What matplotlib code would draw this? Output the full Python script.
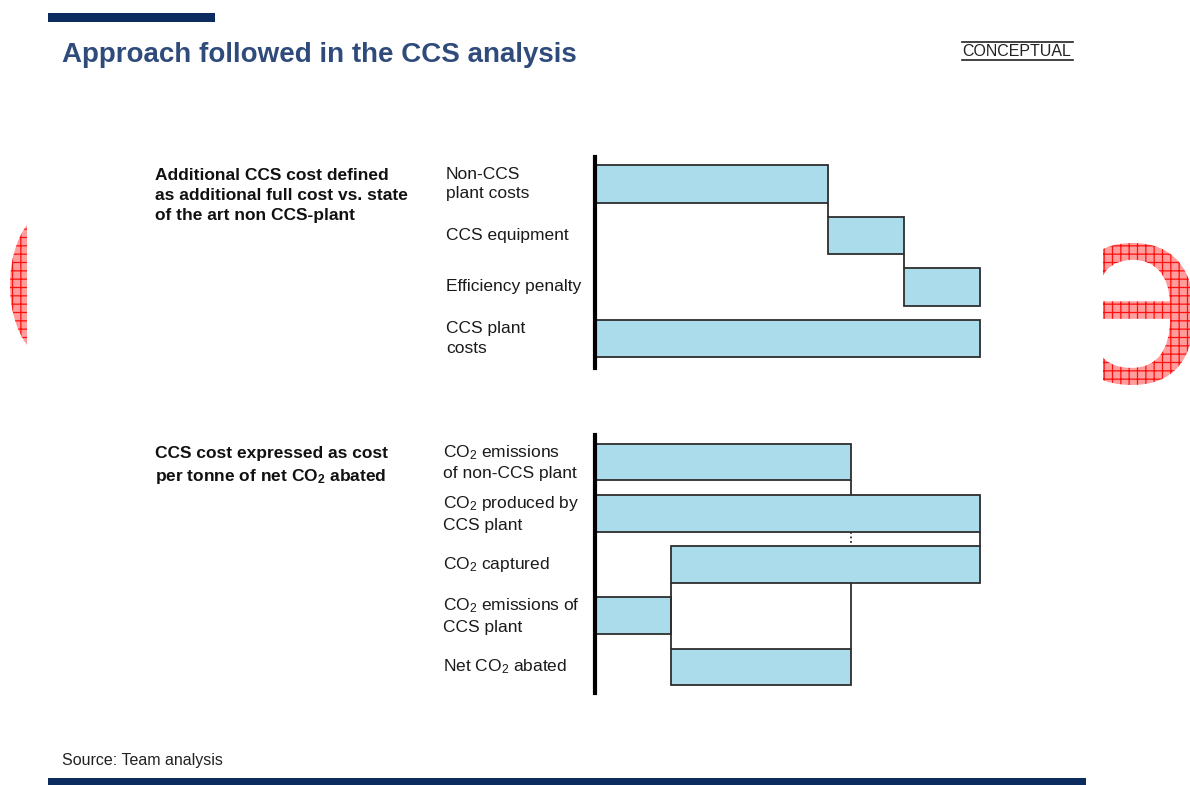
import matplotlib
matplotlib.use('Agg')
import matplotlib.pyplot as plt
from matplotlib.patches import Rectangle, Ellipse, PathPatch
from matplotlib.textpath import TextPath
from matplotlib.font_manager import FontProperties
from matplotlib.transforms import Affine2D

plt.rcParams['font.family'] = ['Liberation Sans', 'DejaVu Sans']
plt.rcParams['mathtext.default'] = 'regular'
plt.rcParams['hatch.linewidth'] = 0.9

# top panel: cost build-up (index, CCS plant cost = 100)
cost_labels = ['Non-CCS\nplant costs', 'CCS equipment', 'Efficiency penalty', 'CCS plant\ncosts']
cost_values = [60.5, 19.75, 19.75, 100.0]

# bottom panel: CO2 balance (index, CO2 produced by CCS plant = 100)
co2_labels = ['CO$_2$ emissions\nof non-CCS plant', 'CO$_2$ produced by\nCCS plant',
              'CO$_2$ captured', 'CO$_2$ emissions of\nCCS plant', 'Net CO$_2$ abated']
co2_values = [66.5, 100.0, 80.3, 19.7, 46.8]

navy = '#0c2b5e'
bar_color = '#aadcec'
edge = '#2e2e2e'
W, H = 1190, 785

fig = plt.figure(figsize=(W / 100, H / 100), dpi=100)

# background axes in pixel coordinates for the slide furniture
bg = fig.add_axes([0, 0, 1, 1])
bg.set_xlim(0, W)
bg.set_ylim(H, 0)
bg.axis('off')

bg.add_patch(Rectangle((48, 13), 167, 9, color=navy, lw=0))
bg.add_patch(Rectangle((48, 778), 1038, 8, color=navy, lw=0))
bg.text(62, 55, 'Approach followed in the CCS analysis', fontsize=20, fontweight='bold',
        color='#2f4b7c', va='center', ha='left')
bg.text(1017, 51, 'CONCEPTUAL', fontsize=11.5, color='#222222', va='center', ha='center')
bg.plot([962, 1073], [42, 42], color='#222222', lw=1.2)
bg.plot([962, 1073], [60, 60], color='#222222', lw=1.2)
bg.text(62, 761, 'Source: Team analysis', fontsize=11.5, color='#222222', va='center', ha='left')

bg.text(155, 168, 'Additional CCS cost defined\nas additional full cost vs. state\nof the art non CCS-plant',
        fontsize=12.5, fontweight='bold', color='#111111', va='top', ha='left', linespacing=1.4)
bg.text(155, 446, 'CCS cost expressed as cost\nper tonne of net CO$_2$ abated',
        fontsize=12.5, fontweight='bold', color='#111111', va='top', ha='left', linespacing=1.4)

# watermark fragments (red hatched letters cut by the slide edges)
tp = TextPath((0, 0), 'e', size=100, prop=FontProperties(family='Liberation Sans'))
bb = tp.get_extents()
s = 142 / bb.height
tr = Affine2D().scale(-s, -s).translate(1194 + s * bb.x0, 385 + s * bb.y0)
wm = PathPatch(tr.transform_path(tp), facecolor='#ff9c9c', edgecolor='#ff1010', hatch='++', lw=0)
bg.add_patch(wm)
clip_r = Rectangle((1103, 0), 100, H, transform=bg.transData)
wm.set_clip_path(clip_r)
wl = Ellipse((52.5, 285), 85, 150, facecolor='#ff9c9c', edgecolor='#ff1010', hatch='++', lw=0)
bg.add_patch(wl)
clip_l = Rectangle((0, 0), 27, H, transform=bg.transData)
wl.set_clip_path(clip_l)


def px_axes(x0, y0, x1, y1):
    return fig.add_axes([x0 / W, 1 - y1 / H, (x1 - x0) / W, (y1 - y0) / H])


def style(ax, labels, pad):
    ax.set_facecolor('none')
    for sp in ['top', 'right', 'bottom']:
        ax.spines[sp].set_visible(False)
    ax.spines['left'].set_linewidth(3)
    ax.spines['left'].set_color('black')
    ax.set_xticks([])
    ax.set_yticks(range(len(labels)), labels)
    ax.tick_params(axis='y', length=0, pad=pad, labelsize=12.5, labelcolor='#1a1a1a')
    for lbl in ax.get_yticklabels():
        lbl.set_ha('left')
        lbl.set_va('center')
        lbl.set_linespacing(1.38)


h = 0.73
xmax = (1010 - 595) / 3.85

# top panel
ax1 = px_axes(595, 157, 1010, 368)
cost_lefts = [0, cost_values[0], cost_values[0] + cost_values[1], 0]
ax1.barh(range(4), cost_values, left=cost_lefts, height=h, color=bar_color,
         edgecolor=edge, linewidth=1.3)
ax1.vlines(cost_lefts[1], 0 + h / 2, 1 - h / 2, color=edge, lw=1.3)
ax1.vlines(cost_lefts[2], 1 + h / 2, 2 - h / 2, color=edge, lw=1.3)
ax1.set_xlim(0, xmax)
ax1.set_ylim(3.573, -0.524)
style(ax1, cost_labels, 107.3)

# bottom panel
ax2 = px_axes(595, 435, 1010, 693)
co2_lefts = [0, 0, co2_values[3], 0, co2_values[3]]
ax2.barh(range(5), co2_values, left=co2_lefts, height=0.72, color=bar_color,
         edgecolor=edge, linewidth=1.3)
hb = 0.72 / 2
ax2.vlines(co2_values[0], 0 + hb, 1 - hb, color=edge, lw=1.3)
ax2.vlines(co2_values[0], 1 + hb, 2 - hb, color=edge, lw=1.3, linestyles=(0, (1, 1.5)))
ax2.vlines(co2_values[0], 2 + hb, 4 - hb, color=edge, lw=1.3)
ax2.vlines(co2_values[1], 1 + hb, 2 - hb, color=edge, lw=1.3)
ax2.vlines(co2_values[3], 2 + hb, 4 - hb, color=edge, lw=1.3)
ax2.set_xlim(0, xmax)
ax2.set_ylim(4.507, -0.527)
style(ax2, co2_labels, 109.4)

fig.savefig('out.png', dpi=100)
